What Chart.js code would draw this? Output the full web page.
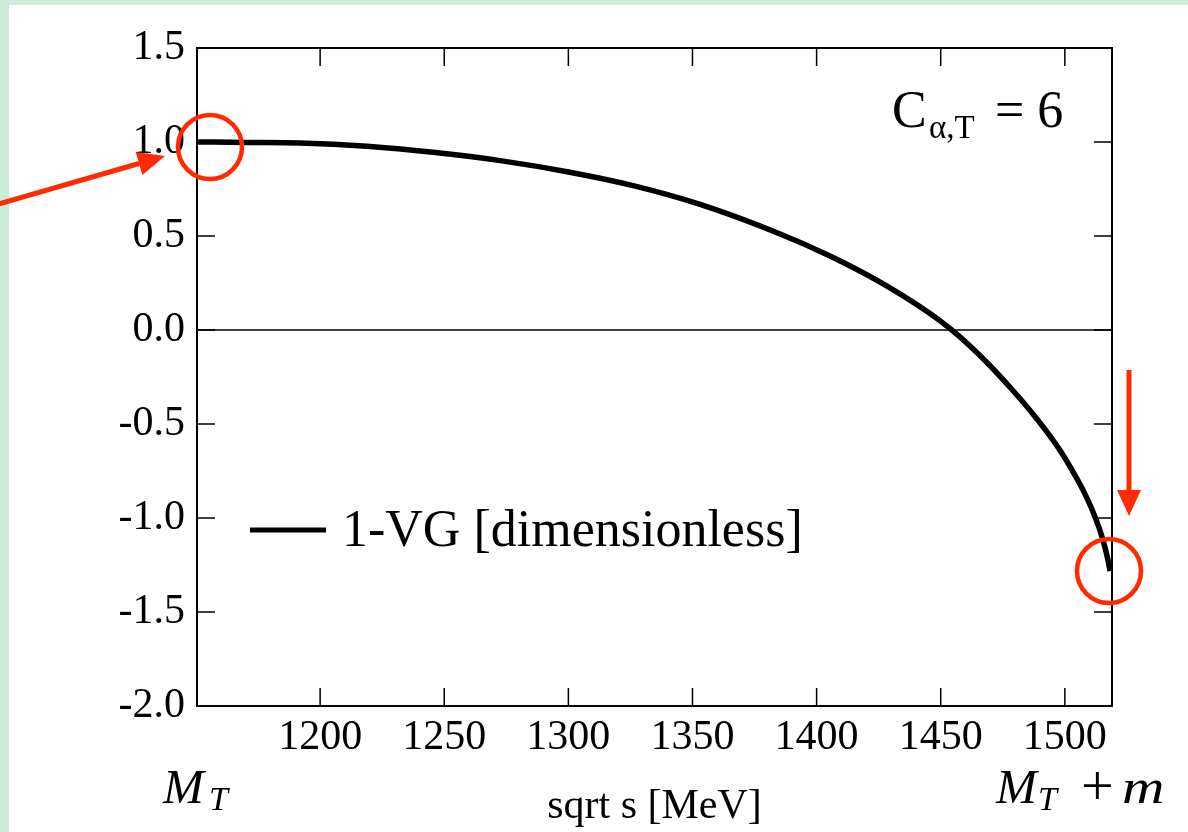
<!DOCTYPE html>
<html><head><meta charset="utf-8">
<script src="https://cdn.jsdelivr.net/npm/chart.js@4.4.1/dist/chart.umd.min.js"></script>
<style>
html,body{margin:0;padding:0;}
body{width:1188px;height:832px;background:#cdebd9;position:relative;overflow:hidden;}
#paper{position:absolute;left:9px;top:5px;right:0;bottom:0;background:#fff;}
#c{position:absolute;left:0;top:0;}
</style></head><body>
<div id="paper"></div>
<canvas id="c" width="1188" height="832"></canvas>
<script>
// ---- data ----
const sqrtS = [1150.4, 1170.1, 1191.9, 1218.9, 1245.5, 1272.5, 1299.5, 1326.1, 1353.1, 1385.3, 1405.4, 1425.6, 1445.7, 1453.8, 1461.8, 1469.9, 1478.0, 1486.0, 1492.1, 1498.1, 1502.9, 1507.4, 1511.0, 1513.8, 1515.8, 1517.0, 1517.8, 1518.2];
const oneMinusVG = [1.000, 0.998, 0.995, 0.977, 0.945, 0.901, 0.842, 0.768, 0.668, 0.511, 0.394, 0.255, 0.088, 0.007, -0.085, -0.190, -0.306, -0.428, -0.530, -0.641, -0.745, -0.853, -0.956, -1.053, -1.138, -1.201, -1.252, -1.282];
const xTickValues = [1200, 1250, 1300, 1350, 1400, 1450, 1500];
const yTickValues = [-2.0, -1.5, -1.0, -0.5, 0.0, 0.5, 1.0, 1.5];
const xRange = [1150.4, 1519];
const yRange = [-2.0, 1.5];
const seriesLabel = '1-VG [dimensionless]';
const xAxisTitle = 'sqrt s [MeV]';
const paramText = ['C', 'α,T', '= 6'];
const leftEdgeLabel = ['M', 'T'];
const rightEdgeLabel = ['M', 'T', '+', 'm'];

const SERIF = "'Liberation Serif', 'Times New Roman', serif";
const RED = '#ff2a00';

function arrow(ctx, x1, y1, x2, y2, w, headLen, headHalf) {
  const ang = Math.atan2(y2 - y1, x2 - x1);
  const bx = x2 - headLen * Math.cos(ang), by = y2 - headLen * Math.sin(ang);
  ctx.lineWidth = w;
  ctx.beginPath(); ctx.moveTo(x1, y1); ctx.lineTo(bx, by); ctx.stroke();
  ctx.beginPath();
  ctx.moveTo(x2, y2);
  ctx.lineTo(bx + headHalf * Math.sin(ang), by - headHalf * Math.cos(ang));
  ctx.lineTo(bx - headHalf * Math.sin(ang), by + headHalf * Math.cos(ang));
  ctx.closePath(); ctx.fill();
}

const decor = {
  id: 'decor',
  beforeDatasetsDraw(chart) {
    const {ctx, chartArea: a, scales: {y}} = chart;
    const y0 = y.getPixelForValue(0);
    ctx.save();
    ctx.strokeStyle = '#000'; ctx.lineWidth = 1.5;
    ctx.beginPath(); ctx.moveTo(a.left, y0); ctx.lineTo(a.right, y0); ctx.stroke();
    ctx.restore();
  },
  afterDatasetsDraw(chart) {
    const {ctx, chartArea: a, scales: {x, y}} = chart;
    ctx.save();
    // inward ticks on all four sides
    const TL = 18;
    ctx.strokeStyle = '#000'; ctx.lineWidth = 1.5;
    ctx.beginPath();
    xTickValues.forEach(v => {
      const px = x.getPixelForValue(v);
      ctx.moveTo(px, a.bottom); ctx.lineTo(px, a.bottom - TL);
      ctx.moveTo(px, a.top); ctx.lineTo(px, a.top + TL);
    });
    yTickValues.forEach(v => {
      const py = y.getPixelForValue(v);
      ctx.moveTo(a.left, py); ctx.lineTo(a.left + TL, py);
      ctx.moveTo(a.right, py); ctx.lineTo(a.right - TL, py);
    });
    ctx.stroke();
    ctx.lineWidth = 2;
    ctx.strokeRect(a.left, a.top, a.right - a.left, a.bottom - a.top);

    // legend
    const ds = chart.data.datasets[0];
    const ly = a.top + 482;
    ctx.strokeStyle = ds.borderColor; ctx.lineWidth = 5;
    ctx.beginPath(); ctx.moveTo(a.left + 53, ly); ctx.lineTo(a.left + 129, ly); ctx.stroke();
    ctx.fillStyle = '#000';
    ctx.font = `52px ${SERIF}`; ctx.textBaseline = 'middle'; ctx.textAlign = 'left';
    ctx.fillText(ds.label, a.left + 145, ly + 2);

    // parameter label
    ctx.textBaseline = 'alphabetic';
    ctx.font = `52px ${SERIF}`;
    ctx.fillText(paramText[0], a.right - 220, a.top + 79);
    ctx.font = `33px ${SERIF}`;
    ctx.fillText(paramText[1], a.right - 183, a.top + 90);
    ctx.font = `52px ${SERIF}`;
    ctx.fillText(paramText[2], a.right - 117, a.top + 79);

    // edge labels
    const base = a.bottom + 97;
    ctx.font = `italic 49px ${SERIF}`;
    ctx.fillText(leftEdgeLabel[0], a.left - 34, base);
    ctx.font = `italic 34px ${SERIF}`;
    ctx.fillText(leftEdgeLabel[1], a.left + 12, base + 7);
    ctx.font = `italic 49px ${SERIF}`;
    ctx.fillText(rightEdgeLabel[0], a.right - 116, base);
    ctx.font = `italic 34px ${SERIF}`;
    ctx.fillText(rightEdgeLabel[1], a.right - 74, base + 7);
    ctx.font = `58px ${SERIF}`;
    ctx.fillText(rightEdgeLabel[2], a.right - 31, base + 2);
    ctx.font = `italic 49px ${SERIF}`;
    ctx.save();
    ctx.translate(a.right + 10, base);
    ctx.scale(1.2, 1);
    ctx.fillText(rightEdgeLabel[3], 0, 0);
    ctx.restore();

    // red annotations anchored at the curve ends
    const meta = chart.getDatasetMeta(0);
    const p0 = meta.data[0], pN = meta.data[meta.data.length - 1];
    ctx.strokeStyle = RED; ctx.fillStyle = RED; ctx.lineWidth = 4.5;
    ctx.beginPath(); ctx.arc(p0.x + 13, p0.y + 5, 32, 0, Math.PI * 2); ctx.stroke();
    ctx.beginPath(); ctx.arc(pN.x - 1, pN.y, 32, 0, Math.PI * 2); ctx.stroke();
    arrow(ctx, p0.x - 205, p0.y + 64, p0.x - 32, p0.y + 14, 5, 27, 12);
    arrow(ctx, pN.x + 19, pN.y - 201, pN.x + 19, pN.y - 55, 5, 26, 12);
    ctx.restore();
  }
};

new Chart(document.getElementById('c').getContext('2d'), {
  type: 'line',
  data: {
    datasets: [{
      label: seriesLabel,
      data: sqrtS.map((v, i) => ({x: v, y: oneMinusVG[i]})),
      borderColor: '#000',
      borderWidth: 5.5,
      pointRadius: 0,
      fill: false,
      cubicInterpolationMode: 'monotone'
    }]
  },
  options: {
    responsive: false,
    animation: false,
    devicePixelRatio: 1,
    layout: {padding: {left: 0, top: 48, right: 76, bottom: 0}},
    plugins: {legend: {display: false}, tooltip: {enabled: false}},
    scales: {
      x: {
        type: 'linear', position: 'bottom', min: xRange[0], max: xRange[1],
        afterBuildTicks: s => { s.ticks = xTickValues.map(v => ({value: v})); },
        afterFit: s => { s.height = 126; },
        grid: {display: false, drawTicks: false},
        border: {display: false},
        ticks: {color: '#000', font: {family: SERIF, size: 42}, padding: 7, maxRotation: 0, autoSkip: false,
                callback: v => String(v)},
        title: {display: true, text: xAxisTitle, color: '#000', font: {family: SERIF, size: 42}, padding: {top: 0, bottom: 0}}
      },
      y: {
        type: 'linear', position: 'left', min: yRange[0], max: yRange[1],
        afterBuildTicks: s => { s.ticks = yTickValues.map(v => ({value: v})); },
        afterFit: s => { s.width = 197; },
        grid: {display: false, drawTicks: false},
        border: {display: false},
        ticks: {color: '#000', font: {family: SERIF, size: 42}, padding: 12, autoSkip: false,
                callback: v => Number(v).toFixed(1)}
      }
    }
  },
  plugins: [decor]
});
</script>
</body></html>
